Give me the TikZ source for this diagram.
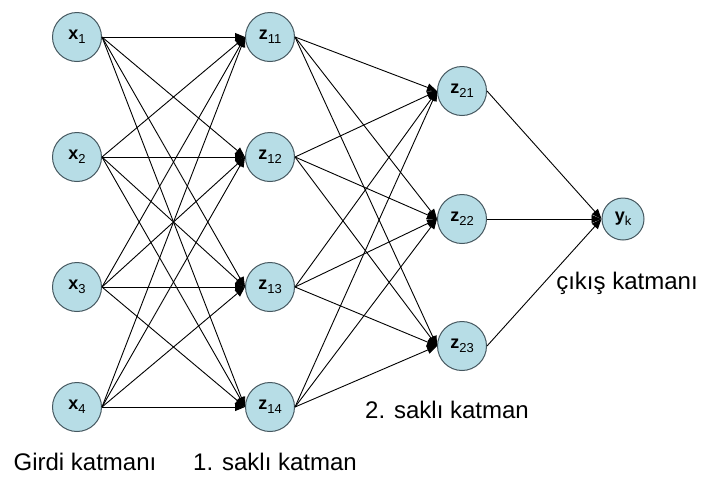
\documentclass[tikz,border=0pt]{standalone}
\usepackage{fontspec}
\setmainfont{Liberation Sans}
\usetikzlibrary{arrows.meta}
\definecolor{nodefill}{RGB}{183,221,230}
\definecolor{nodeline}{RGB}{70,88,96}
\newcommand\nodelab[2]{{\fontsize{18}{18}\selectfont\bfseries #1}\raisebox{-4pt}{\fontsize{13}{13}\selectfont #2}}
\tikzset{
  neuron/.style={circle, draw=nodeline, line width=1pt, fill=nodefill, minimum size=49pt, inner sep=0pt},
  outneuron/.style={neuron, minimum size=42pt},
  conn/.style={line width=0.9pt, -{Triangle[length=10pt,width=8pt]}},
  layerlab/.style={font=\fontsize{24}{24}\selectfont, inner sep=0pt}
}
\begin{document}
\begin{tikzpicture}[x=1pt,y=-1pt]
\useasboundingbox (0,0) rectangle (706,483);
% input layer
\node[neuron] (x1) at (77,37) {\nodelab{x}{1}};
\node[neuron] (x2) at (77,157) {\nodelab{x}{2}};
\node[neuron] (x3) at (77,287) {\nodelab{x}{3}};
\node[neuron] (x4) at (77,407) {\nodelab{x}{4}};
% hidden layer 1
\node[neuron] (z11) at (270,37) {\nodelab{z}{11}};
\node[neuron] (z12) at (270,157) {\nodelab{z}{12}};
\node[neuron] (z13) at (270,287) {\nodelab{z}{13}};
\node[neuron] (z14) at (270,407) {\nodelab{z}{14}};
% hidden layer 2
\node[neuron] (z21) at (462,91) {\nodelab{z}{21}};
\node[neuron] (z22) at (462,219) {\nodelab{z}{22}};
\node[neuron] (z23) at (462,346) {\nodelab{z}{23}};
% output
\node[outneuron] (yk) at (623,219) {\nodelab{y}{k}};
% connections
\foreach \i in {1,2,3,4}{
  \foreach \j in {11,12,13,14}{
    \draw[conn] (x\i.east) -- (z\j.west);
  }
}
\foreach \i in {11,12,13,14}{
  \foreach \j in {21,22,23}{
    \draw[conn] (z\i.east) -- (z\j.west);
  }
}
\foreach \j in {21,22,23}{
  \draw[conn] (z\j.east) -- (yk.west);
}
% labels
\node[layerlab] (l1) at (85,462) {Girdi katmanı};
\node[layerlab] (l2) at (275,462) {1. saklı katman};
\node[layerlab] (l3) at (447,410) {2. saklı katman};
\node[layerlab] (l4) at (627,283) {çıkış katmanı};
\end{tikzpicture}
\end{document}
